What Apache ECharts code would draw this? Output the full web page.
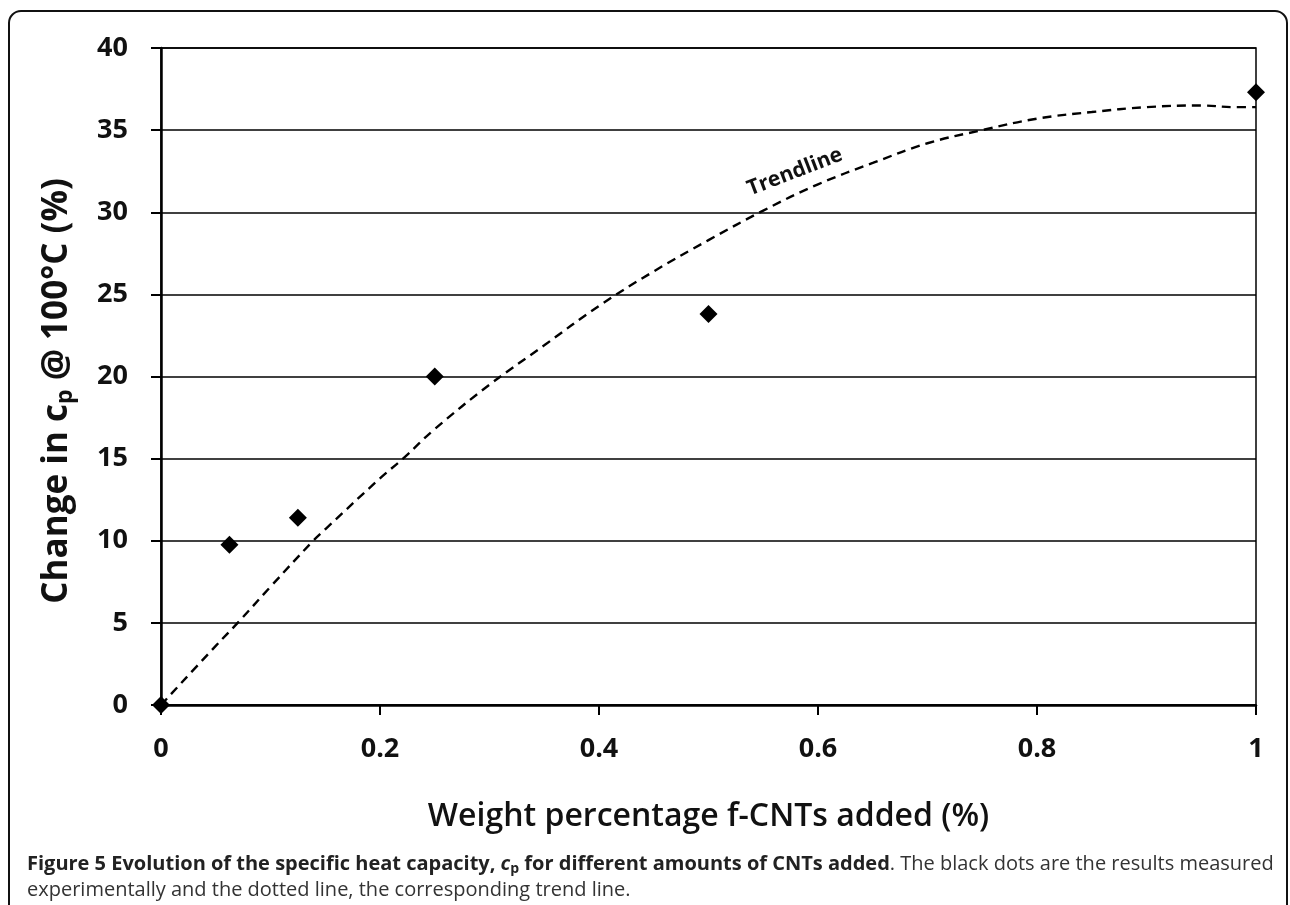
<!DOCTYPE html>
<html>
<head>
<meta charset="utf-8">
<script src="https://cdn.jsdelivr.net/npm/echarts@6/dist/echarts.min.js"></script>
<style>
html,body{margin:0;padding:0;background:#fff;}
#chart{width:1290px;height:905px;}
</style>
</head>
<body>
<div id="chart"></div>
<script>
// Measured data (weight % f-CNTs, change in cp %)
const measuredX = [0, 0.0625, 0.125, 0.25, 0.5, 1];
const measuredY = [0, 9.75, 11.4, 20.0, 23.8, 37.3];
// Trendline
const trendX = [0, 0.05, 0.07, 0.1, 0.139, 0.15, 0.2, 0.221, 0.25, 0.3, 0.35, 0.4, 0.45, 0.5, 0.55, 0.6, 0.65, 0.7, 0.75, 0.8, 0.85, 0.9, 0.95, 0.98, 1.0];
const trendY = [0, 3.6, 5.0, 7.2, 10.0, 10.7, 13.8, 15.0, 16.8, 19.5, 21.9, 24.3, 26.4, 28.3, 30.1, 31.7, 33.0, 34.2, 35.0, 35.7, 36.1, 36.4, 36.5, 36.4, 36.4];
const xTicks = [0, 0.2, 0.4, 0.6, 0.8, 1];
const yTicks = [0, 5, 10, 15, 20, 25, 30, 35, 40];

const chart = echarts.init(document.getElementById('chart'), null, {renderer: 'canvas'});
const FONT = '"Open Sans", "Noto Sans", sans-serif';

const option = {
  backgroundColor: '#fff',
  animation: false,
  grid: {left: 161, right: 34, top: 48, bottom: 200, show: true, borderColor: '#000', borderWidth: 1.5, backgroundColor: 'transparent'},
  xAxis: {
    type: 'value', min: 0, max: 1, interval: 0.2,
    name: 'Weight percentage f-CNTs added (%)',
    nameLocation: 'middle', nameGap: 96,
    nameTextStyle: {fontFamily: FONT, fontSize: 32, fontWeight: 600, color: '#111'},
    axisLine: {show: true, lineStyle: {color: '#000', width: 2.5}},
    axisTick: {show: true, inside: false, length: 10, lineStyle: {color: '#000', width: 2}},
    axisLabel: {fontFamily: FONT, fontSize: 27, fontWeight: 'bold', color: '#111', margin: 31,
      formatter: v => xTicks.includes(+v.toFixed(2)) ? String(+v.toFixed(2)) : ''},
    splitLine: {show: false}
  },
  yAxis: {
    type: 'value', min: 0, max: 40, interval: 5,
    axisLine: {show: true, lineStyle: {color: '#000', width: 2.5}},
    axisTick: {show: true, inside: false, length: 10, lineStyle: {color: '#000', width: 2}},
    axisLabel: {fontFamily: FONT, fontSize: 27, fontWeight: 'bold', color: '#111', margin: 33,
      formatter: v => yTicks.includes(v) ? String(v) : ''},
    splitLine: {show: true, lineStyle: {color: '#000', width: 1.5}}
  },
  series: [
    {
      type: 'line', data: trendX.map((x, i) => [x, trendY[i]]),
      smooth: 0.4, symbol: 'none', z: 3,
      lineStyle: {color: '#000', width: 2.4, type: [9, 6]}
    },
    {
      type: 'scatter', data: measuredX.map((x, i) => [x, measuredY[i]]),
      symbol: 'diamond', symbolSize: 18, z: 4,
      itemStyle: {color: '#000', opacity: 1}
    }
  ],
  graphic: [
    {type: 'rect', z: -1, shape: {x: 9, y: 11, width: 1278, height: 960, r: 12},
     style: {fill: 'none', stroke: '#111', lineWidth: 2}},
    {type: 'text', x: 57, y: 391, rotation: Math.PI / 2,
     style: {
       text: '{n|Change in c}{s|p}{n| @ 100°C (%)}',
       align: 'center', verticalAlign: 'middle',
       rich: {
         n: {fontFamily: FONT, fontSize: 35, fontWeight: 'bold', fill: '#111'},
         s: {fontFamily: FONT, fontSize: 23, fontWeight: 'bold', fill: '#111', padding: [16, 0, 0, 0]}
       }
     }},
    {type: 'text', x: 795, y: 172, rotation: 21 * Math.PI / 180,
     style: {text: 'Trendline', font: 'bold 21px ' + FONT, fill: '#111', align: 'center', verticalAlign: 'middle'}},
    {type: 'text', x: 27, y: 864,
     style: {
       text: '{b|Figure 5 Evolution of the specific heat capacity, }{bi|c}{bs|p}{b| for different amounts of CNTs added}{r|. The black dots are the results measured}',
       verticalAlign: 'middle',
       rich: {
         b: {fontFamily: FONT, fontSize: 20, fontWeight: 'bold', fill: '#222'},
         bi: {fontFamily: FONT, fontSize: 20, fontWeight: 'bold', fontStyle: 'italic', fill: '#222'},
         bs: {fontFamily: FONT, fontSize: 14, fontWeight: 'bold', fill: '#222', padding: [10, 0, 0, 0]},
         r: {fontFamily: FONT, fontSize: 20, fill: '#333'}
       }
     }},
    {type: 'text', x: 27, y: 890,
     style: {text: 'experimentally and the dotted line, the corresponding trend line.', font: '20px ' + FONT, fill: '#333', verticalAlign: 'middle'}}
  ]
};
chart.setOption(option);
</script>
</body>
</html>
